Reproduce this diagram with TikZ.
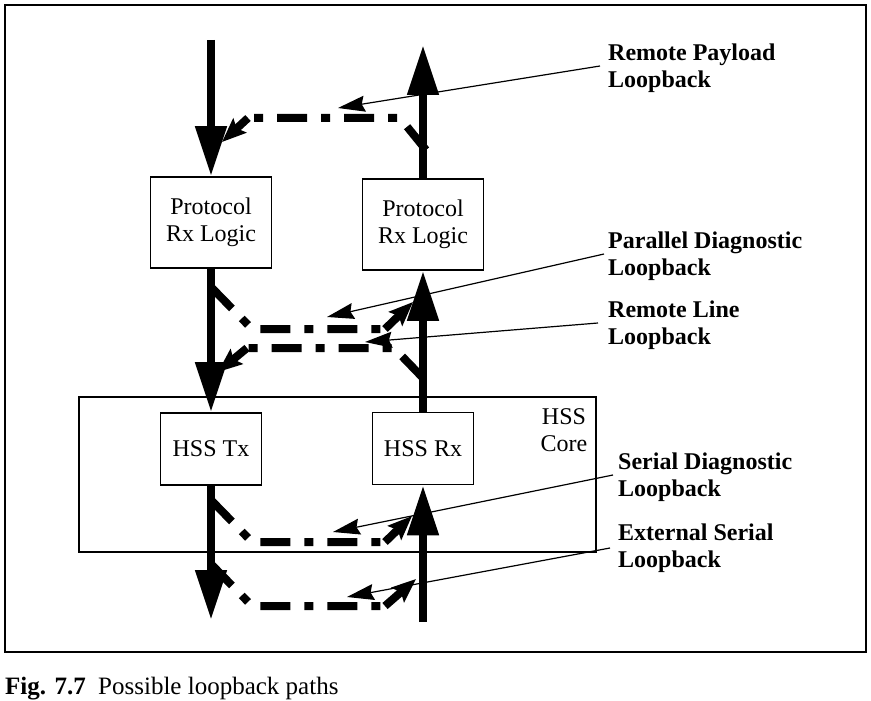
\documentclass[tikz,border=0pt]{standalone}
\usepackage{fontspec}
\setmainfont{Liberation Serif}
\usepackage{tikz}
\usetikzlibrary{arrows.meta,positioning}

\begin{document}
\begin{tikzpicture}[x=1pt, y=-1pt,
    every node/.style={font=\fontsize{24}{27}\selectfont},
    blk/.style={draw, line width=1.6pt, align=center, inner sep=0pt},
    flow/.style={line width=8pt, -{Triangle[length=50pt,width=30pt]}},
    lpath/.style={line width=8pt, dash pattern=on 30pt off 14pt on 9pt off 14pt},
    ltip/.style={line width=8pt, -{Stealth[length=24pt,width=19pt,inset=4pt]}},
    callout/.style={line width=1.2pt, -{Stealth[length=27pt,width=16pt,inset=3pt]}},
    lbl/.style={font=\fontsize{24}{27}\selectfont\bfseries, align=left, anchor=west, inner sep=0pt}]
  \useasboundingbox (0,0) rectangle (871,701);
  % frame and caption
  \draw[line width=1.3pt] (5,5) rectangle (866,652);
  \node[anchor=west, inner sep=0pt, font=\fontsize{25}{28}\selectfont] (cap) at (5,689) {\textbf{Fig. 7.7}\ \ Possible loopback paths};

  % blocks
  \node[blk, minimum width=121pt, minimum height=91pt] (prxL) at (211,222.5) {Protocol\\Rx Logic};
  \node[blk, minimum width=121pt, minimum height=91pt] (prxR) at (423,224.5) {Protocol\\Rx Logic};
  \node[blk, minimum width=517pt, minimum height=155pt] (core) at (337.5,474.5) {};
  \node[align=center, inner sep=0pt] (coreLbl) at (564,430) {HSS\\Core};
  \node[blk, minimum width=101pt, minimum height=72pt] (hssTx) at (211,449) {HSS Tx};
  \node[blk, minimum width=101pt, minimum height=72pt] (hssRx) at (423,448.5) {HSS Rx};

  % data flow
  \coordinate (inL) at (211,40);
  \coordinate (outR) at (423,45);
  \coordinate (outL) at (211,620);
  \coordinate (inR) at (423,622);
  \draw[flow] (inL) -- (prxL.north);
  \draw[flow] (prxR.north) -- (outR);
  \draw[flow] (prxL.south) -- (hssTx.north);
  \draw[flow] (hssRx.north) -- (prxR.south);
  \draw[flow] (hssTx.south) -- (outL);
  \draw[flow] (inR) -- (hssRx.south);

  % loopback paths
  \coordinate (rpA) at (426,150); \coordinate (rpB) at (400,118);
  \coordinate (rpC) at (248,118); \coordinate (rpT) at (222,142);
  \draw[lpath] (rpA) -- (rpB) -- (rpC);
  \draw[ltip] (rpC) -- (rpT);

  \coordinate (pdA) at (211,287); \coordinate (pdB) at (252,329);
  \coordinate (pdC) at (385,329); \coordinate (pdT) at (413,302);
  \draw[lpath] (pdA) -- (pdB) -- (pdC);
  \draw[ltip] (pdC) -- (pdT);

  \coordinate (rlA) at (423,378); \coordinate (rlB) at (394,348);
  \coordinate (rlC) at (247,348); \coordinate (rlT) at (218,372);
  \draw[lpath] (rlA) -- (rlB) -- (rlC);
  \draw[ltip] (rlC) -- (rlT);

  \coordinate (sdA) at (211,500); \coordinate (sdB) at (252,542);
  \coordinate (sdC) at (385,542); \coordinate (sdT) at (412,516);
  \draw[lpath] (sdA) -- (sdB) -- (sdC);
  \draw[ltip] (sdC) -- (sdT);

  \coordinate (esA) at (211,564); \coordinate (esB) at (252,606);
  \coordinate (esC) at (385,606); \coordinate (esT) at (416,579);
  \draw[lpath] (esA) -- (esB) -- (esC);
  \draw[ltip] (esC) -- (esT);

  % callouts
  \node[lbl] (rpl) at (608,68) {Remote Payload\\Loopback};
  \node[lbl] (pdl) at (608,256) {Parallel Diagnostic\\Loopback};
  \node[lbl] (rll) at (608,325) {Remote Line\\Loopback};
  \node[lbl] (sdl) at (618,477) {Serial Diagnostic\\Loopback};
  \node[lbl] (esl) at (618,548) {External Serial\\Loopback};
  \coordinate (rpP) at (338,108);
  \coordinate (pdP) at (327,317);
  \coordinate (rlP) at (365,342);
  \coordinate (sdP) at (333,532);
  \coordinate (esP) at (347,597);
  \draw[callout] ([xshift=-8pt,yshift=2pt]rpl.west) -- (rpP);
  \draw[callout] ([xshift=-4pt,yshift=2pt]pdl.west) -- (pdP);
  \draw[callout] ([xshift=-10pt,yshift=2pt]rll.west) -- (rlP);
  \draw[callout] ([xshift=-5pt,yshift=2pt]sdl.west) -- (sdP);
  \draw[callout] ([xshift=-8pt]esl.west) -- (esP);
\end{tikzpicture}
\end{document}
